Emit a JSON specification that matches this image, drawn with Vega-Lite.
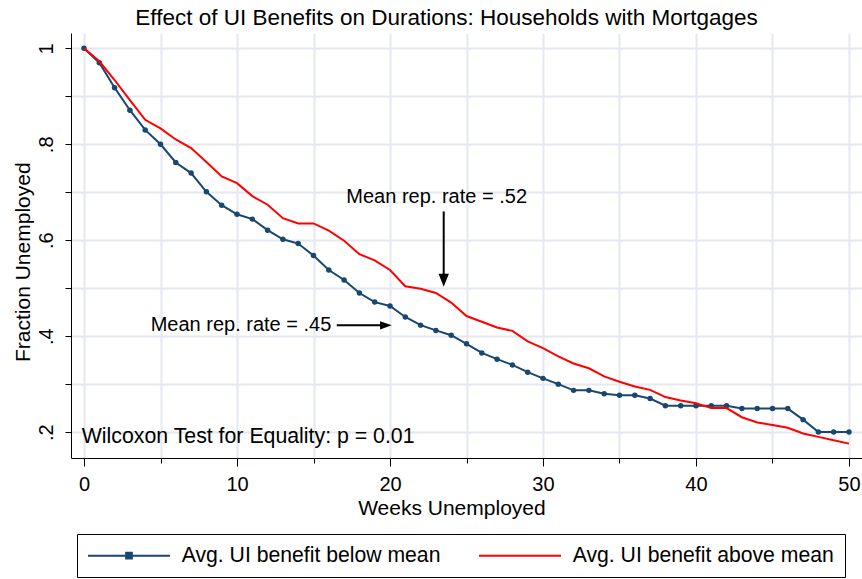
{
  "$schema": "https://vega.github.io/schema/vega-lite/v6.json",
  "width": 791,
  "height": 425,
  "autosize": {"type": "none"},
  "padding": {"left": 71, "top": 33, "right": 0, "bottom": 121},
  "background": "white",
  "title": {"text": "Effect of UI Benefits on Durations: Households with Mortgages", "fontSize": 22.5, "font": "Liberation Sans", "fontWeight": "normal", "color": "black", "anchor": "middle", "frame": "group", "dx": -20, "dy": 22, "baseline": "alphabetic", "offset": 8},
  "config": {"font": "Liberation Sans", "view": {"stroke": null}},
  "datasets": {
    "km": [
      {"series": "Avg. UI benefit below mean", "week": 0, "frac": 1.0},
      {"series": "Avg. UI benefit below mean", "week": 1, "frac": 0.970},
      {"series": "Avg. UI benefit below mean", "week": 2, "frac": 0.918},
      {"series": "Avg. UI benefit below mean", "week": 3, "frac": 0.871},
      {"series": "Avg. UI benefit below mean", "week": 4, "frac": 0.830},
      {"series": "Avg. UI benefit below mean", "week": 5, "frac": 0.800},
      {"series": "Avg. UI benefit below mean", "week": 6, "frac": 0.762},
      {"series": "Avg. UI benefit below mean", "week": 7, "frac": 0.740},
      {"series": "Avg. UI benefit below mean", "week": 8, "frac": 0.701},
      {"series": "Avg. UI benefit below mean", "week": 9, "frac": 0.673},
      {"series": "Avg. UI benefit below mean", "week": 10, "frac": 0.654},
      {"series": "Avg. UI benefit below mean", "week": 11, "frac": 0.644},
      {"series": "Avg. UI benefit below mean", "week": 12, "frac": 0.621},
      {"series": "Avg. UI benefit below mean", "week": 13, "frac": 0.602},
      {"series": "Avg. UI benefit below mean", "week": 14, "frac": 0.593},
      {"series": "Avg. UI benefit below mean", "week": 15, "frac": 0.568},
      {"series": "Avg. UI benefit below mean", "week": 16, "frac": 0.538},
      {"series": "Avg. UI benefit below mean", "week": 17, "frac": 0.517},
      {"series": "Avg. UI benefit below mean", "week": 18, "frac": 0.490},
      {"series": "Avg. UI benefit below mean", "week": 19, "frac": 0.471},
      {"series": "Avg. UI benefit below mean", "week": 20, "frac": 0.463},
      {"series": "Avg. UI benefit below mean", "week": 21, "frac": 0.440},
      {"series": "Avg. UI benefit below mean", "week": 22, "frac": 0.423},
      {"series": "Avg. UI benefit below mean", "week": 23, "frac": 0.412},
      {"series": "Avg. UI benefit below mean", "week": 24, "frac": 0.402},
      {"series": "Avg. UI benefit below mean", "week": 25, "frac": 0.384},
      {"series": "Avg. UI benefit below mean", "week": 26, "frac": 0.365},
      {"series": "Avg. UI benefit below mean", "week": 27, "frac": 0.352},
      {"series": "Avg. UI benefit below mean", "week": 28, "frac": 0.340},
      {"series": "Avg. UI benefit below mean", "week": 29, "frac": 0.325},
      {"series": "Avg. UI benefit below mean", "week": 30, "frac": 0.312},
      {"series": "Avg. UI benefit below mean", "week": 31, "frac": 0.300},
      {"series": "Avg. UI benefit below mean", "week": 32, "frac": 0.287},
      {"series": "Avg. UI benefit below mean", "week": 33, "frac": 0.287},
      {"series": "Avg. UI benefit below mean", "week": 34, "frac": 0.280},
      {"series": "Avg. UI benefit below mean", "week": 35, "frac": 0.277},
      {"series": "Avg. UI benefit below mean", "week": 36, "frac": 0.277},
      {"series": "Avg. UI benefit below mean", "week": 37, "frac": 0.270},
      {"series": "Avg. UI benefit below mean", "week": 38, "frac": 0.255},
      {"series": "Avg. UI benefit below mean", "week": 39, "frac": 0.255},
      {"series": "Avg. UI benefit below mean", "week": 40, "frac": 0.255},
      {"series": "Avg. UI benefit below mean", "week": 41, "frac": 0.255},
      {"series": "Avg. UI benefit below mean", "week": 42, "frac": 0.255},
      {"series": "Avg. UI benefit below mean", "week": 43, "frac": 0.249},
      {"series": "Avg. UI benefit below mean", "week": 44, "frac": 0.249},
      {"series": "Avg. UI benefit below mean", "week": 45, "frac": 0.249},
      {"series": "Avg. UI benefit below mean", "week": 46, "frac": 0.249},
      {"series": "Avg. UI benefit below mean", "week": 47, "frac": 0.226},
      {"series": "Avg. UI benefit below mean", "week": 48, "frac": 0.200},
      {"series": "Avg. UI benefit below mean", "week": 49, "frac": 0.200},
      {"series": "Avg. UI benefit below mean", "week": 50, "frac": 0.200},
      {"series": "Avg. UI benefit above mean", "week": 0, "frac": 1.0},
      {"series": "Avg. UI benefit above mean", "week": 1, "frac": 0.973},
      {"series": "Avg. UI benefit above mean", "week": 2, "frac": 0.934},
      {"series": "Avg. UI benefit above mean", "week": 3, "frac": 0.892},
      {"series": "Avg. UI benefit above mean", "week": 4, "frac": 0.851},
      {"series": "Avg. UI benefit above mean", "week": 5, "frac": 0.833},
      {"series": "Avg. UI benefit above mean", "week": 6, "frac": 0.810},
      {"series": "Avg. UI benefit above mean", "week": 7, "frac": 0.792},
      {"series": "Avg. UI benefit above mean", "week": 8, "frac": 0.763},
      {"series": "Avg. UI benefit above mean", "week": 9, "frac": 0.733},
      {"series": "Avg. UI benefit above mean", "week": 10, "frac": 0.719},
      {"series": "Avg. UI benefit above mean", "week": 11, "frac": 0.692},
      {"series": "Avg. UI benefit above mean", "week": 12, "frac": 0.674},
      {"series": "Avg. UI benefit above mean", "week": 13, "frac": 0.646},
      {"series": "Avg. UI benefit above mean", "week": 14, "frac": 0.635},
      {"series": "Avg. UI benefit above mean", "week": 15, "frac": 0.635},
      {"series": "Avg. UI benefit above mean", "week": 16, "frac": 0.620},
      {"series": "Avg. UI benefit above mean", "week": 17, "frac": 0.599},
      {"series": "Avg. UI benefit above mean", "week": 18, "frac": 0.571},
      {"series": "Avg. UI benefit above mean", "week": 19, "frac": 0.558},
      {"series": "Avg. UI benefit above mean", "week": 20, "frac": 0.538},
      {"series": "Avg. UI benefit above mean", "week": 21, "frac": 0.504},
      {"series": "Avg. UI benefit above mean", "week": 22, "frac": 0.499},
      {"series": "Avg. UI benefit above mean", "week": 23, "frac": 0.490},
      {"series": "Avg. UI benefit above mean", "week": 24, "frac": 0.470},
      {"series": "Avg. UI benefit above mean", "week": 25, "frac": 0.442},
      {"series": "Avg. UI benefit above mean", "week": 26, "frac": 0.430},
      {"series": "Avg. UI benefit above mean", "week": 27, "frac": 0.418},
      {"series": "Avg. UI benefit above mean", "week": 28, "frac": 0.411},
      {"series": "Avg. UI benefit above mean", "week": 29, "frac": 0.389},
      {"series": "Avg. UI benefit above mean", "week": 30, "frac": 0.375},
      {"series": "Avg. UI benefit above mean", "week": 31, "frac": 0.358},
      {"series": "Avg. UI benefit above mean", "week": 32, "frac": 0.343},
      {"series": "Avg. UI benefit above mean", "week": 33, "frac": 0.333},
      {"series": "Avg. UI benefit above mean", "week": 34, "frac": 0.316},
      {"series": "Avg. UI benefit above mean", "week": 35, "frac": 0.305},
      {"series": "Avg. UI benefit above mean", "week": 36, "frac": 0.295},
      {"series": "Avg. UI benefit above mean", "week": 37, "frac": 0.288},
      {"series": "Avg. UI benefit above mean", "week": 38, "frac": 0.273},
      {"series": "Avg. UI benefit above mean", "week": 39, "frac": 0.266},
      {"series": "Avg. UI benefit above mean", "week": 40, "frac": 0.260},
      {"series": "Avg. UI benefit above mean", "week": 41, "frac": 0.250},
      {"series": "Avg. UI benefit above mean", "week": 42, "frac": 0.250},
      {"series": "Avg. UI benefit above mean", "week": 43, "frac": 0.231},
      {"series": "Avg. UI benefit above mean", "week": 44, "frac": 0.220},
      {"series": "Avg. UI benefit above mean", "week": 45, "frac": 0.215},
      {"series": "Avg. UI benefit above mean", "week": 46, "frac": 0.209},
      {"series": "Avg. UI benefit above mean", "week": 47, "frac": 0.197},
      {"series": "Avg. UI benefit above mean", "week": 48, "frac": 0.190},
      {"series": "Avg. UI benefit above mean", "week": 49, "frac": 0.183},
      {"series": "Avg. UI benefit above mean", "week": 50, "frac": 0.176}
    ]
  },
  "data": {"name": "km"},
  "layer": [
    {
      "transform": [{"filter": "datum.series == 'Avg. UI benefit below mean'"}],
      "mark": {"type": "line", "strokeWidth": 2},
      "encoding": {
        "x": {
          "field": "week", "type": "quantitative",
          "scale": {"domain": [-0.85, 50.85], "nice": false, "zero": false},
          "axis": {
            "title": "Weeks Unemployed",
            "values": [0, 5, 10, 15, 20, 25, 30, 35, 40, 45, 50],
            "labelExpr": "datum.value % 10 == 0 ? datum.label : ''",
            "grid": true, "gridColor": "#e4e8f1", "gridWidth": 2,
            "domainColor": "black", "domainWidth": 1,
            "tickColor": "black", "tickWidth": 1,
            "tickSize": {"condition": {"test": "datum.value % 10 == 0", "value": 8}, "value": 5},
            "labelFontSize": 20, "labelColor": "black", "labelBaseline": "alphabetic", "labelPadding": 24,
            "labelFlush": false, "labelOverlap": false,
            "titleFontSize": 21, "titleFontWeight": "normal", "titleColor": "black",
            "titleX": 380.4, "titleY": 56, "titleAlign": "center", "titleBaseline": "alphabetic"
          }
        },
        "y": {
          "field": "frac", "type": "quantitative",
          "scale": {"domain": [0.146, 1.032], "nice": false, "zero": false},
          "axis": {
            "title": "Fraction Unemployed",
            "values": [0.2, 0.3, 0.4, 0.5, 0.6, 0.7, 0.8, 0.9, 1],
            "labelExpr": "round(datum.value * 10) % 2 == 0 ? (datum.value > 0.99 ? '1' : replace(format(datum.value, '.1f'), '0.', '.')) : ''",
            "grid": true, "gridColor": "#e4e8f1", "gridWidth": 2,
            "domainColor": "black", "domainWidth": 1,
            "tickColor": "black", "tickWidth": 1, "tickSize": 6,
            "labelAngle": -90, "labelAlign": "center", "labelBaseline": "alphabetic", "labelPadding": 13,
            "labelFontSize": 20, "labelColor": "black", "labelFlush": false, "labelOverlap": false,
            "titleFontSize": 21, "titleFontWeight": "normal", "titleColor": "black",
            "titleAngle": 270, "titleX": -41.5, "titleY": 228.7, "titleAlign": "center", "titleBaseline": "alphabetic"
          }
        },
        "color": {
          "field": "series", "type": "nominal",
          "scale": {"domain": ["Avg. UI benefit below mean", "Avg. UI benefit above mean"], "range": ["#1a476f", "#ff0000"]},
          "legend": {
            "orient": "none", "legendX": 6, "legendY": 501, "direction": "horizontal",
            "title": null, "strokeColor": "black", "padding": 11,
            "symbolType": "M-2.585,0H17.415", "symbolSize": 67.24, "symbolStrokeWidth": 2,
            "labelFontSize": 21.2, "labelFont": "Liberation Sans", "labelColor": "black",
            "labelOffset": 72.5, "columnPadding": 34, "labelLimit": 400,
            "labelExpr": "datum.value == 'Avg. UI benefit above mean' ? datum.label + '\u00a0\u00a0\u00a0\u00a0' : datum.label",
            "encode": {
              "symbols": {
                "update": {
                  "shape": {"signal": "datum.value == 'Avg. UI benefit below mean' ? 'M-2.585,0H17.415M6.715,-0.7H8.115V0.7H6.715Z' : 'M-2.585,0H17.415'"},
                  "fill": {"signal": "datum.value == 'Avg. UI benefit below mean' ? '#1a476f' : 'transparent'"}
                }
              }
            }
          }
        }
      }
    },
    {
      "transform": [{"filter": "datum.series == 'Avg. UI benefit below mean'"}],
      "mark": {"type": "point", "filled": true, "shape": "circle", "size": 30, "color": "#1a476f", "opacity": 1},
      "encoding": {
        "x": {"field": "week", "type": "quantitative"},
        "y": {"field": "frac", "type": "quantitative"}
      }
    },
    {
      "transform": [{"filter": "datum.series == 'Avg. UI benefit above mean'"}],
      "mark": {"type": "line", "strokeWidth": 2, "color": "#ff0000"},
      "encoding": {
        "x": {"field": "week", "type": "quantitative"},
        "y": {"field": "frac", "type": "quantitative"}
      }
    },
    {
      "data": {"values": [{"note": "Mean rep. rate = .52"}]},
      "mark": {"type": "text", "fontSize": 20, "align": "center", "baseline": "middle", "color": "black"},
      "encoding": {
        "text": {"field": "note"},
        "x": {"datum": 23.05, "type": "quantitative"},
        "y": {"datum": 0.691, "type": "quantitative"}
      }
    },
    {
      "data": {"values": [{"note": "Mean rep. rate = .45"}]},
      "mark": {"type": "text", "fontSize": 20, "align": "center", "baseline": "middle", "color": "black"},
      "encoding": {
        "text": {"field": "note"},
        "x": {"datum": 10.26, "type": "quantitative"},
        "y": {"datum": 0.4235, "type": "quantitative"}
      }
    },
    {
      "data": {"values": [{"note": "Wilcoxon Test for Equality: p = 0.01"}]},
      "mark": {"type": "text", "fontSize": 21.3, "align": "left", "baseline": "middle", "color": "black"},
      "encoding": {
        "text": {"field": "note"},
        "x": {"datum": -0.15, "type": "quantitative"},
        "y": {"datum": 0.1896, "type": "quantitative"}
      }
    },
    {
      "data": {"values": [{"note": "arrow to .52"}]},
      "mark": {"type": "rule", "color": "black", "strokeWidth": 2},
      "encoding": {
        "x": {"datum": 23.51, "type": "quantitative"},
        "y": {"datum": 0.660, "type": "quantitative"},
        "y2": {"datum": 0.515}
      }
    },
    {
      "data": {"values": [{"note": "arrowhead .52"}]},
      "mark": {"type": "point", "shape": "M0,0L-0.4,-1L0.4,-1Z", "filled": true, "color": "black", "opacity": 1, "size": 676, "strokeWidth": 0},
      "encoding": {
        "x": {"datum": 23.51, "type": "quantitative"},
        "y": {"datum": 0.503, "type": "quantitative"}
      }
    },
    {
      "data": {"values": [{"note": "arrow to .45"}]},
      "mark": {"type": "rule", "color": "black", "strokeWidth": 2},
      "encoding": {
        "x": {"datum": 16.52, "type": "quantitative"},
        "x2": {"datum": 19.6},
        "y": {"datum": 0.4225, "type": "quantitative"}
      }
    },
    {
      "data": {"values": [{"note": "arrowhead .45"}]},
      "mark": {"type": "point", "shape": "M0,0L-1,-0.35L-1,0.35Z", "filled": true, "color": "black", "opacity": 1, "size": 540, "strokeWidth": 0},
      "encoding": {
        "x": {"datum": 20.11, "type": "quantitative"},
        "y": {"datum": 0.4225, "type": "quantitative"}
      }
    }
  ]
}
